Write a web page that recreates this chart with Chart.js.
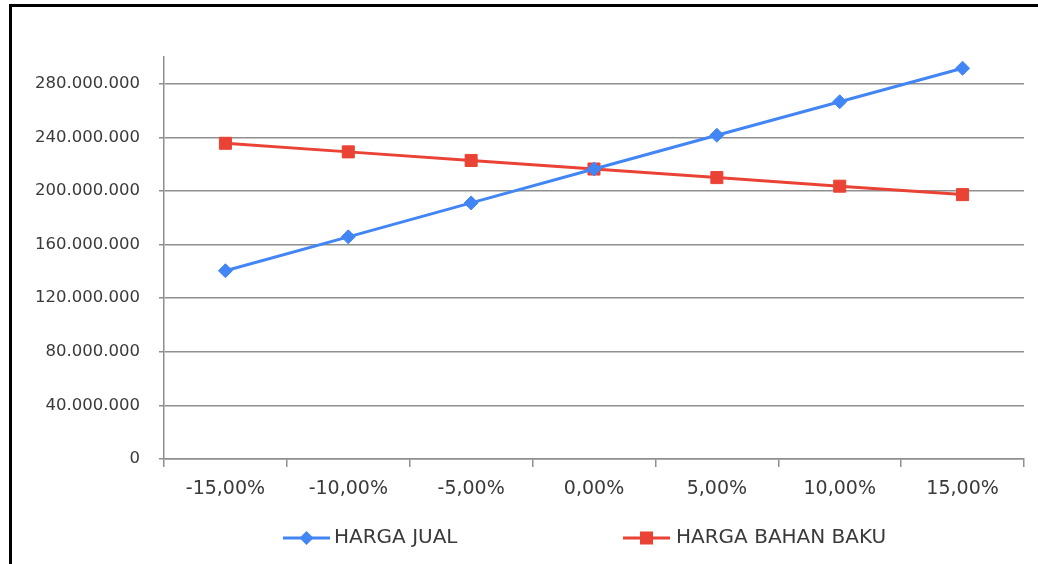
<!DOCTYPE html>
<html>
<head>
<meta charset="utf-8">
<script src="https://cdn.jsdelivr.net/npm/chart.js@4/dist/chart.umd.min.js"></script>
<style>
  html, body { margin: 0; padding: 0; background: #fff; overflow: hidden; }
  #wrap { position: relative; width: 1038px; height: 564px; }
  #frame { position: absolute; left: 9px; top: 4px; width: 1100px; height: 700px;
           border-left: 3px solid #000; border-top: 3px solid #000; box-sizing: border-box; }
  canvas { position: absolute; left: 0; top: 0; }
</style>
</head>
<body>
<div id="wrap">
  <div id="frame"></div>
  <canvas id="c" width="1038" height="564"></canvas>
</div>
<script>
// ---- data ----
const categories = ['-15,00%', '-10,00%', '-5,00%', '0,00%', '5,00%', '10,00%', '15,00%'];
const hargaJual = [140500000, 165800000, 191100000, 216400000, 241600000, 266600000, 291600000];
const hargaBahanBaku = [235600000, 229200000, 222800000, 216400000, 210000000, 203600000, 197300000];
const seriesNames = ['HARGA JUAL', 'HARGA BAHAN BAKU'];
const yTicks = [0, 40000000, 80000000, 120000000, 160000000, 200000000, 240000000, 280000000];
const yMax = 300000000;

const FONT = "'DejaVu Sans', sans-serif";
const TEXT = '#3a3a3a';
const GRID = '#8f8f8f';
const BLUE = '#4285F4';
const RED = '#EA4335';

function fmt(v) {
  return String(Math.round(v)).replace(/\B(?=(\d{3})+(?!\d))/g, '.');
}

const legendPlugin = {
  id: 'customLegend',
  afterDraw(chart) {
    const ctx = chart.ctx;
    const items = [
      { lx1: 283, lx2: 330, tx: 334 },
      { lx1: 623, lx2: 670, tx: 676 }
    ];
    const y = 538;
    chart.data.datasets.forEach((ds, i) => {
      const it = items[i];
      ctx.save();
      ctx.strokeStyle = ds.borderColor;
      ctx.lineWidth = 3;
      ctx.beginPath();
      ctx.moveTo(it.lx1, y);
      ctx.lineTo(it.lx2, y);
      ctx.stroke();
      const cx = (it.lx1 + it.lx2) / 2;
      ctx.fillStyle = ds.pointBackgroundColor;
      ctx.beginPath();
      if (ds.pointStyle === 'rectRot') {
        const r = 7;
        ctx.moveTo(cx - r, y); ctx.lineTo(cx, y - r); ctx.lineTo(cx + r, y); ctx.lineTo(cx, y + r);
        ctx.closePath();
      } else {
        const s = 6.5;
        ctx.rect(cx - s, y - s, 2 * s, 2 * s);
      }
      ctx.fill();
      ctx.fillStyle = TEXT;
      ctx.font = '20px ' + FONT;
      ctx.textBaseline = 'middle';
      ctx.textAlign = 'left';
      ctx.fillText(ds.label, it.tx, y);
      ctx.restore();
    });
  }
};

new Chart(document.getElementById('c'), {
  type: 'line',
  data: {
    labels: categories,
    datasets: [
      {
        label: seriesNames[0],
        data: hargaJual,
        borderColor: BLUE,
        backgroundColor: BLUE,
        pointBackgroundColor: BLUE,
        pointBorderColor: BLUE,
        borderWidth: 3,
        pointStyle: 'rectRot',
        pointRadius: 7,
        pointBorderWidth: 1,
        pointHoverRadius: 7,
        tension: 0,
        fill: false
      },
      {
        label: seriesNames[1],
        data: hargaBahanBaku,
        borderColor: RED,
        backgroundColor: RED,
        pointBackgroundColor: RED,
        pointBorderColor: RED,
        borderWidth: 3,
        pointStyle: 'rect',
        pointRadius: 8.5,
        pointBorderWidth: 1,
        pointHoverRadius: 8.5,
        tension: 0,
        fill: false
      }
    ]
  },
  options: {
    responsive: false,
    devicePixelRatio: 1,
    animation: false,
    events: [],
    layout: { padding: { left: 0, top: 57, right: 14, bottom: 0 } },
    plugins: {
      legend: { display: false },
      tooltip: { enabled: false },
      title: { display: false }
    },
    scales: {
      x: {
        type: 'category',
        offset: true,
        grid: {
          display: true,
          offset: true,
          drawOnChartArea: false,
          drawTicks: true,
          tickLength: 8,
          color: GRID,
          lineWidth: 1.5
        },
        border: { display: true, color: GRID, width: 1.5 },
        ticks: {
          color: TEXT,
          font: { family: FONT, size: 19 },
          padding: 11,
          maxRotation: 0,
          autoSkip: false
        },
        afterFit(scale) { scale.height = 105; }
      },
      y: {
        type: 'linear',
        min: 0,
        max: yMax,
        grid: {
          color: GRID,
          lineWidth: 1.5,
          drawTicks: true,
          tickLength: 5
        },
        border: { display: true, color: GRID, width: 1.5 },
        ticks: {
          color: TEXT,
          font: { family: FONT, size: 16.5 },
          padding: 19,
          autoSkip: false,
          callback: (v) => fmt(v)
        },
        afterBuildTicks(scale) {
          scale.ticks = yTicks.map(v => ({ value: v }));
        },
        afterFit(scale) { scale.width = 164; }
      }
    }
  },
  plugins: [legendPlugin]
});
</script>
</body>
</html>
